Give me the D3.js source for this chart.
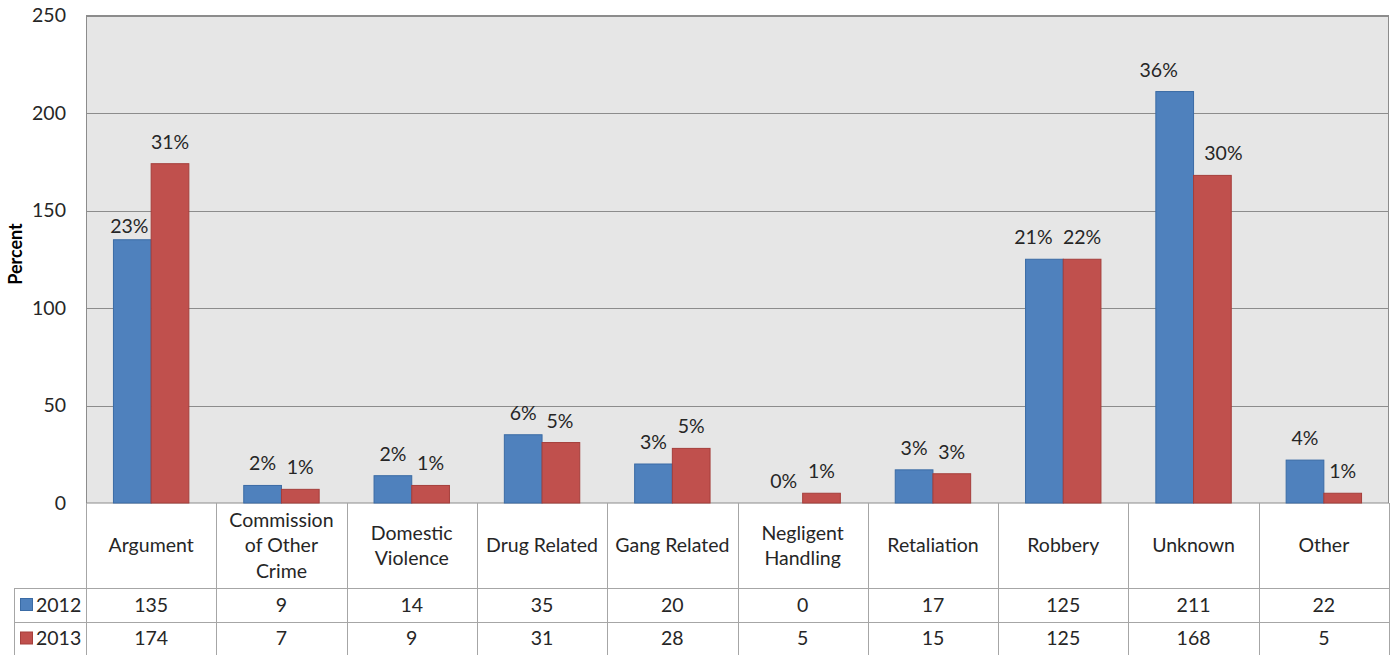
<!DOCTYPE html>
<html><head><meta charset="utf-8">
<script src="https://cdn.jsdelivr.net/npm/d3@7"></script>
<style>body{margin:0;background:#fff;} svg{display:block;}</style>
</head><body>
<svg id="c" width="1397" height="655"></svg>
<script>
const categories = ["Argument","Commission of Other Crime","Domestic Violence","Drug Related","Gang Related","Negligent Handling","Retaliation","Robbery","Unknown","Other"];
const categoryLines = [["Argument"],["Commission","of Other","Crime"],["Domestic","Violence"],["Drug Related"],["Gang Related"],["Negligent","Handling"],["Retaliation"],["Robbery"],["Unknown"],["Other"]];
const seriesNames = ["2012","2013"];
const values2012 = [135,9,14,35,20,0,17,125,211,22];
const values2013 = [174,7,9,31,28,5,15,125,168,5];
const pct2012 = ["23%","2%","2%","6%","3%","0%","3%","21%","36%","4%"];
const pct2013 = ["31%","1%","1%","5%","5%","1%","3%","22%","30%","1%"];
const yTicks = [0,50,100,150,200,250];
// label placement nudges (layout only, px)
const nudgeX2012 = [-3,0,0,0,0,0,0,-11,-16,0];
const nudgeX2013 = [0,0,0,-1,0,0,0,0,11,0];
const nudgeY2012 = [8,0,0,0,0,0,0,0,0,0];
const colors = {"2012":"#4F81BD","2013":"#C0504D"};
const strokes = {"2012":"#3A6BA5","2013":"#A53E3B"};

const svg = d3.select("#c");
const font = "Lato, 'Open Sans', sans-serif";
const txtC = "#262626";
const L = 86, R = 1389, T = 15.5, B = 503;
const x = d3.scaleBand().domain(categories).range([L,R]).padding(0);
const xi = d3.scaleBand().domain(seriesNames).range([0,x.bandwidth()]).paddingInner(0).paddingOuter(0.728);
const y = d3.scaleLinear().domain([0,250]).range([B,T]);

svg.append("rect").attr("x",L).attr("y",T).attr("width",R-L).attr("height",B-T).attr("fill","#E6E6E6");
svg.append("g").selectAll("line").data(yTicks.filter(d=>d>0)).join("line")
  .attr("x1",L).attr("x2",R).attr("y1",d=>Math.round(y(d))+0.5).attr("y2",d=>Math.round(y(d))+0.5)
  .attr("stroke","#8C8C8C").attr("stroke-width",1);
svg.append("rect").attr("x",L+0.5).attr("y",T).attr("width",R-L-1).attr("height",B-T).attr("fill","none").attr("stroke","#8C8C8C");

const yAxis = d3.axisLeft(y).tickValues(yTicks).tickSize(0).tickPadding(20);
const ga = svg.append("g").attr("transform",`translate(${L},0)`).call(yAxis);
ga.select(".domain").remove();
ga.selectAll("text").attr("font-family",font).attr("font-size",19.5).attr("fill",txtC);

svg.append("text").attr("transform",`translate(22,254) rotate(-90)`).attr("text-anchor","middle")
  .attr("font-family",font).attr("font-size",18).attr("font-weight","bold").attr("fill","#000").text("Percent");

const data = [];
categories.forEach((c,i)=>{
  data.push({c, s:"2012", v:values2012[i], p:pct2012[i], dx:nudgeX2012[i], dy:nudgeY2012[i]});
  data.push({c, s:"2013", v:values2013[i], p:pct2013[i], dx:nudgeX2013[i], dy:0});
});
svg.append("g").selectAll("rect").data(data.filter(d=>d.v>0)).join("rect")
  .attr("x",d=>x(d.c)+xi(d.s)).attr("width",xi.bandwidth())
  .attr("y",d=>y(d.v)).attr("height",d=>y(0)-y(d.v))
  .attr("fill",d=>colors[d.s]).attr("stroke",d=>strokes[d.s]).attr("stroke-width",1);
svg.append("g").selectAll("text").data(data).join("text")
  .attr("x",d=>x(d.c)+xi(d.s)+xi.bandwidth()/2+d.dx).attr("y",d=>y(d.v)-15+d.dy)
  .attr("text-anchor","middle").attr("font-family",font).attr("font-size",19.5).attr("fill",txtC)
  .text(d=>d.p);

const gridC = "#A6A6A6";
const rowTop = 588, row1 = 622, rowBot = 655, legL = 14;
const tg = svg.append("g").attr("stroke",gridC).attr("stroke-width",1);
const xs = categories.map(c=>x(c)).concat([R]);
tg.selectAll("line.v").data(xs).join("line").attr("class","v")
  .attr("x1",d=>Math.round(d)+0.5).attr("x2",d=>Math.round(d)+0.5).attr("y1",B).attr("y2",rowBot);
tg.append("line").attr("x1",legL+0.5).attr("x2",legL+0.5).attr("y1",rowTop).attr("y2",rowBot);
tg.append("line").attr("x1",legL).attr("x2",R).attr("y1",rowTop+0.5).attr("y2",rowTop+0.5);
tg.append("line").attr("x1",legL).attr("x2",R).attr("y1",row1+0.5).attr("y2",row1+0.5);

const catMid = (503+588)/2;
const lh = 25.5;
categories.forEach((c,i)=>{
  const lines = categoryLines[i];
  const t = svg.append("text").attr("text-anchor","middle").attr("font-family",font).attr("font-size",19.5).attr("fill",txtC);
  lines.forEach((ln,j)=>{
    t.append("tspan").attr("x",x(c)+x.bandwidth()/2)
     .attr("y",catMid + (j-(lines.length-1)/2)*lh).attr("dy","0.35em").text(ln);
  });
});
const rows = [{s:"2012",vals:values2012,y0:rowTop,y1:row1},{s:"2013",vals:values2013,y0:row1,y1:rowBot}];
rows.forEach(r=>{
  const cy = (r.y0+r.y1)/2;
  svg.append("rect").attr("x",20.5).attr("y",cy-6.5).attr("width",12).attr("height",12).attr("fill",colors[r.s]).attr("stroke",strokes[r.s]);
  svg.append("text").attr("x",36).attr("y",cy).attr("dy","0.35em").attr("font-family",font).attr("font-size",19.5).attr("fill",txtC).text(r.s);
  svg.append("g").selectAll("text").data(r.vals).join("text")
    .attr("x",(d,i)=>x(categories[i])+x.bandwidth()/2).attr("y",cy).attr("dy","0.35em")
    .attr("text-anchor","middle").attr("font-family",font).attr("font-size",19.5).attr("fill",txtC).text(d=>d);
});
</script>
</body></html>
